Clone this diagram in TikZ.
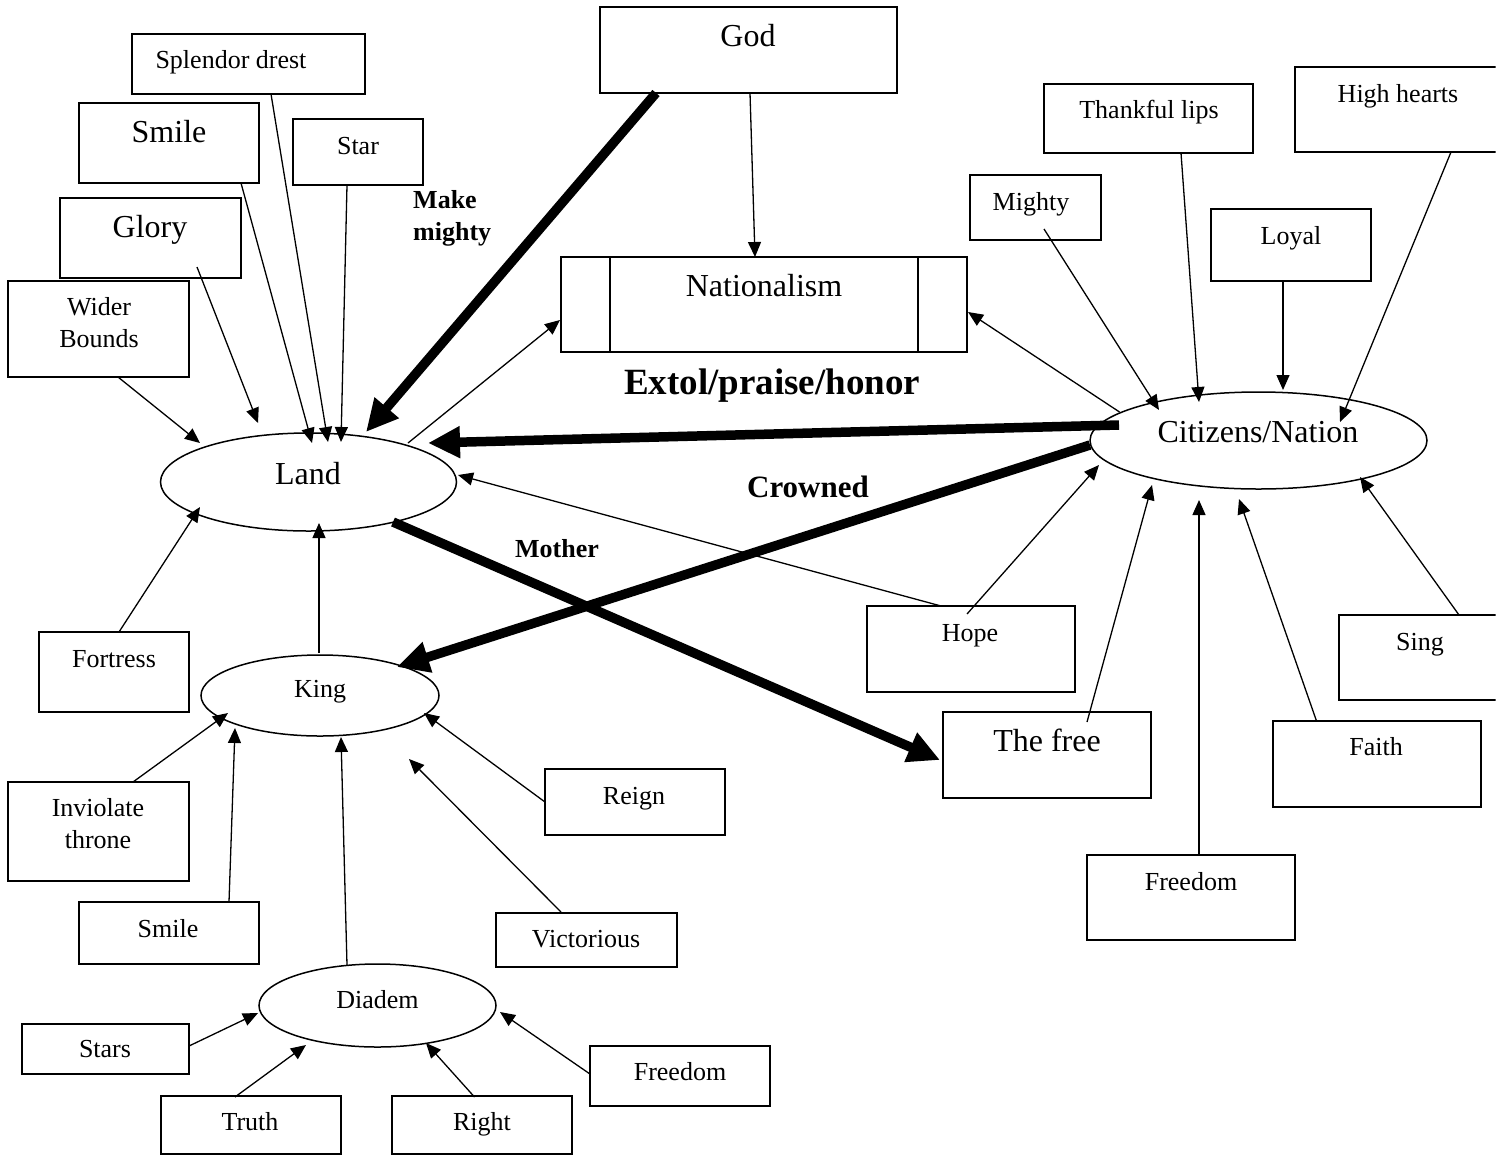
\documentclass[tikz,border=0pt]{standalone}
\usepackage{fontspec}
\setmainfont{Liberation Serif}
\usetikzlibrary{arrows.meta,shapes.geometric}

% rectangle node given by its corners: name, x1, y1, x2, y2
\newcommand{\rectnode}[5]{%
  \node[box, minimum width={(#4)-(#2)}, minimum height={(#5)-(#3)}]
    (#1) at ({((#2)+(#4))/2},{((#3)+(#5))/2}) {};}

\begin{document}
\begin{tikzpicture}[x=1pt,y=-1pt,
  box/.style={draw, line width=1.7pt, rectangle, inner sep=0pt, outer sep=0pt},
  oval/.style={draw, line width=1.5pt, ellipse, inner sep=0pt, outer sep=0pt},
  sm/.style={inner sep=0pt, font=\fontsize{26}{32}\selectfont, text height=19.5pt, text depth=4pt},
  lg/.style={inner sep=0pt, font=\fontsize{32}{38}\selectfont, text height=24pt, text depth=4.8pt},
  smtwo/.style={inner sep=0pt, font=\fontsize{26}{32}\selectfont},
  link/.style={line width=1.3pt, -{Triangle[length=15pt,width=13pt]}},
  heavy/.style={line width=9.5pt, -{Triangle[length=32pt,width=30pt]}},
]
\useasboundingbox (0,0) rectangle (1506,1157);
\fill[white] (0,0) rectangle (1506,1157);
\begin{scope}
\clip (0,0) rectangle (1495.5,1157);

% ---------- boxes ----------
\rectnode{splendor}{132}{34}{365}{94}
\rectnode{smileA}{79}{103}{259}{183}
\rectnode{star}{293}{119}{423}{185}
\rectnode{glory}{60}{198}{241}{278}
\rectnode{wider}{8}{281}{189}{377}
\rectnode{god}{600}{7}{897}{93}
\rectnode{nat}{561}{257}{967}{352}
\rectnode{thank}{1044}{84}{1253}{153}
\rectnode{high}{1295}{67}{1510}{152}
\rectnode{mighty}{970}{175}{1101}{240}
\rectnode{loyal}{1211}{209}{1371}{281}
\rectnode{fortress}{39}{632}{189}{712}
\rectnode{inviolate}{8}{782}{189}{881}
\rectnode{smileB}{79}{902}{259}{964}
\rectnode{reign}{545}{769}{725}{835}
\rectnode{victorious}{496}{913}{677}{967}
\rectnode{stars}{22}{1024}{189}{1074}
\rectnode{truth}{161}{1096}{341}{1154}
\rectnode{right}{392}{1096}{572}{1154}
\rectnode{freedomA}{590}{1046}{770}{1106}
\rectnode{hope}{867}{606}{1075}{692}
\rectnode{thefree}{943}{712}{1151}{798}
\rectnode{freedomB}{1087}{855}{1295}{940}
\rectnode{faith}{1273}{721}{1481}{807}
\rectnode{sing}{1339}{615}{1510}{700}

% inner bars of the Nationalism box
\draw[line width=1.7pt] ([xshift=49pt]nat.north west) -- ([xshift=49pt]nat.south west);
\draw[line width=1.7pt] ([xshift=-49pt]nat.north east) -- ([xshift=-49pt]nat.south east);

% ---------- ellipses ----------
\node[oval, minimum width=296pt, minimum height=98pt] (land) at (308.5,482) {};
\node[oval, minimum width=238pt, minimum height=81pt] (king) at (320,695.5) {};
\node[oval, minimum width=237pt, minimum height=83pt] (diadem) at (377.5,1005.5) {};
\node[oval, minimum width=337pt, minimum height=97pt] (citizens) at (1258.5,440.5) {};

% ---------- texts ----------
\node[sm] (splendorT) at (231,61) {Splendor drest};
\node[lg] (smileAT) at (169,133) {Smile};
\node[sm] (starT) at (358,147) {Star};
\node[lg] (gloryT) at (150,228) {Glory};
\node[smtwo, align=center] (widerT) at (99,323) {Wider\\Bounds};
\node[smtwo, font=\fontsize{26}{32}\selectfont\bfseries, align=left, anchor=west]
  (makeT) at (413,218.5) {Make\\mighty};
\node[lg] (godT) at (748,37) {God};
\node[lg] (natT) at (764,287) {Nationalism};
\node[inner sep=0pt, font=\fontsize{37}{44}\selectfont\bfseries, text height=27.8pt, text depth=5.5pt]
  (extolT) at (772,383) {Extol/praise/honor};
\node[sm] (thankT) at (1149,111) {Thankful lips};
\node[sm] (highT) at (1398,95) {High hearts};
\node[sm] (mightyT) at (1031,203) {Mighty};
\node[sm] (loyalT) at (1291,237) {Loyal};
\node[lg] (citizensT) at (1258,433) {Citizens/Nation};
\node[lg] (landT) at (308,475) {Land};
\node[sm] (kingT) at (320,690) {King};
\node[sm] (diademT) at (377.5,1001) {Diadem};
\node[sm] (fortressT) at (114,660) {Fortress};
\node[smtwo, align=center] (inviolateT) at (98,824) {Inviolate\\throne};
\node[sm] (smileBT) at (168,930) {Smile};
\node[sm] (reignT) at (634,797) {Reign};
\node[sm] (victoriousT) at (586,940) {Victorious};
\node[sm] (starsT) at (105,1050) {Stars};
\node[sm] (truthT) at (250,1123) {Truth};
\node[sm] (rightT) at (482,1123) {Right};
\node[sm] (freedomAT) at (680,1073) {Freedom};
\node[sm] (hopeT) at (970,634) {Hope};
\node[lg] (thefreeT) at (1047,742) {The free};
\node[sm] (freedomBT) at (1191,883) {Freedom};
\node[sm] (faithT) at (1376,748) {Faith};
\node[sm] (singT) at (1420,643) {Sing};
\node[inner sep=0pt, font=\fontsize{31}{37}\selectfont\bfseries, text height=23.3pt, text depth=4.6pt]
  (crownedT) at (808,488) {Crowned};
\node[sm, font=\fontsize{26}{32}\selectfont\bfseries] (motherT) at (557,550) {Mother};

% ---------- connectors into Land ----------
\draw[link] ([shift={(19.5,48)}]wider.center) -- ([shift={(-108.5,-39)}]land.center);
\draw[link] ([shift={(46.5,29)}]glory.center) -- ([shift={(-50.5,-59)}]land.center);
\draw[link] ([shift={(72,40)}]smileA.center) -- ([shift={(3.5,-39)}]land.center);
\draw[link] ([shift={(22.5,30)}]splendor.center) -- ([shift={(19.5,-40)}]land.center);
\draw[link] ([shift={(-11,33)}]star.center) -- ([shift={(32.5,-40)}]land.center);
\draw[link] ([shift={(5,-40)}]fortress.center) -- ([shift={(-108.5,25)}]land.center);
\draw[link] ([shift={(-1,-42.5)}]king.center) -- ([shift={(10.5,41)}]land.center);
\draw[link] ([shift={(-30,-43)}]hope.center) -- ([shift={(149.5,-7)}]land.center);
\draw[link] ([shift={(99.5,-39)}]land.center) -- ([shift={(-204,15.5)}]nat.center);

% ---------- heavy connectors ----------
\draw[heavy] ([shift={(-92.5,43)}]god.center) -- ([shift={(57.5,-50)}]land.center);
\draw[heavy] ([shift={(-139.5,-15.5)}]citizens.center) -- ([shift={(119.5,-39)}]land.center);
\draw[heavy] ([shift={(84.5,40)}]land.center) -- ([shift={(-107,5)}]thefree.center);
\draw[heavy] ([shift={(-168.5,4.5)}]citizens.center) -- ([shift={(77,-28.5)}]king.center);

% ---------- Nationalism ----------
\draw[link] ([shift={(1.5,43)}]god.center) -- ([shift={(-9,-47.5)}]nat.center);
\draw[link] ([shift={(-139,-28.5)}]citizens.center) -- ([shift={(204,7.5)}]nat.center);

% ---------- connectors into Citizens/Nation ----------
\draw[link] ([shift={(8.5,21.5)}]mighty.center) -- ([shift={(-99.5,-30.5)}]citizens.center);
\draw[link] ([shift={(32.5,34.5)}]thank.center) -- ([shift={(-59.5,-38.5)}]citizens.center);
\draw[link] ([shift={(-8,36)}]loyal.center) -- ([shift={(24.5,-50.5)}]citizens.center);
\draw[link] ([shift={(48.5,42.5)}]high.center) -- ([shift={(81.5,-18.5)}]citizens.center);
\draw[link] ([shift={(-4,-35)}]hope.center) -- ([shift={(-159.5,24.5)}]citizens.center);
\draw[link] ([shift={(40,-33)}]thefree.center) -- ([shift={(-106.5,44.5)}]citizens.center);
\draw[link] ([shift={(8,-42.5)}]freedomB.center) -- ([shift={(-59.5,59.5)}]citizens.center);
\draw[link] ([shift={(-60.5,-43)}]faith.center) -- ([shift={(-19.5,58.5)}]citizens.center);
\draw[link] ([shift={(34.5,-42.5)}]sing.center) -- ([shift={(101.5,36.5)}]citizens.center);

% ---------- connectors into King ----------
\draw[link] ([shift={(34.5,-49.5)}]inviolate.center) -- ([shift={(-92,17.5)}]king.center);
\draw[link] ([shift={(60,-31)}]smileB.center) -- ([shift={(-85,32.5)}]king.center);
\draw[link] ([shift={(-30.5,-40.5)}]diadem.center) -- ([shift={(21,41.5)}]king.center);
\draw[link] ([shift={(-25.5,-28)}]victorious.center) -- ([shift={(89,63.5)}]king.center);
\draw[link] ([shift={(-90,0)}]reign.center) -- ([shift={(104,17.5)}]king.center);

% ---------- connectors into Diadem ----------
\draw[link] ([shift={(83.5,-3)}]stars.center) -- ([shift={(-119.5,7.5)}]diadem.center);
\draw[link] ([shift={(-16,-28)}]truth.center) -- ([shift={(-71.5,39.5)}]diadem.center);
\draw[link] ([shift={(-7.5,-28)}]right.center) -- ([shift={(48.5,37.5)}]diadem.center);
\draw[link] ([shift={(-90,-2)}]freedomA.center) -- ([shift={(122.5,6.5)}]diadem.center);
\end{scope}
\end{tikzpicture}
\end{document}
